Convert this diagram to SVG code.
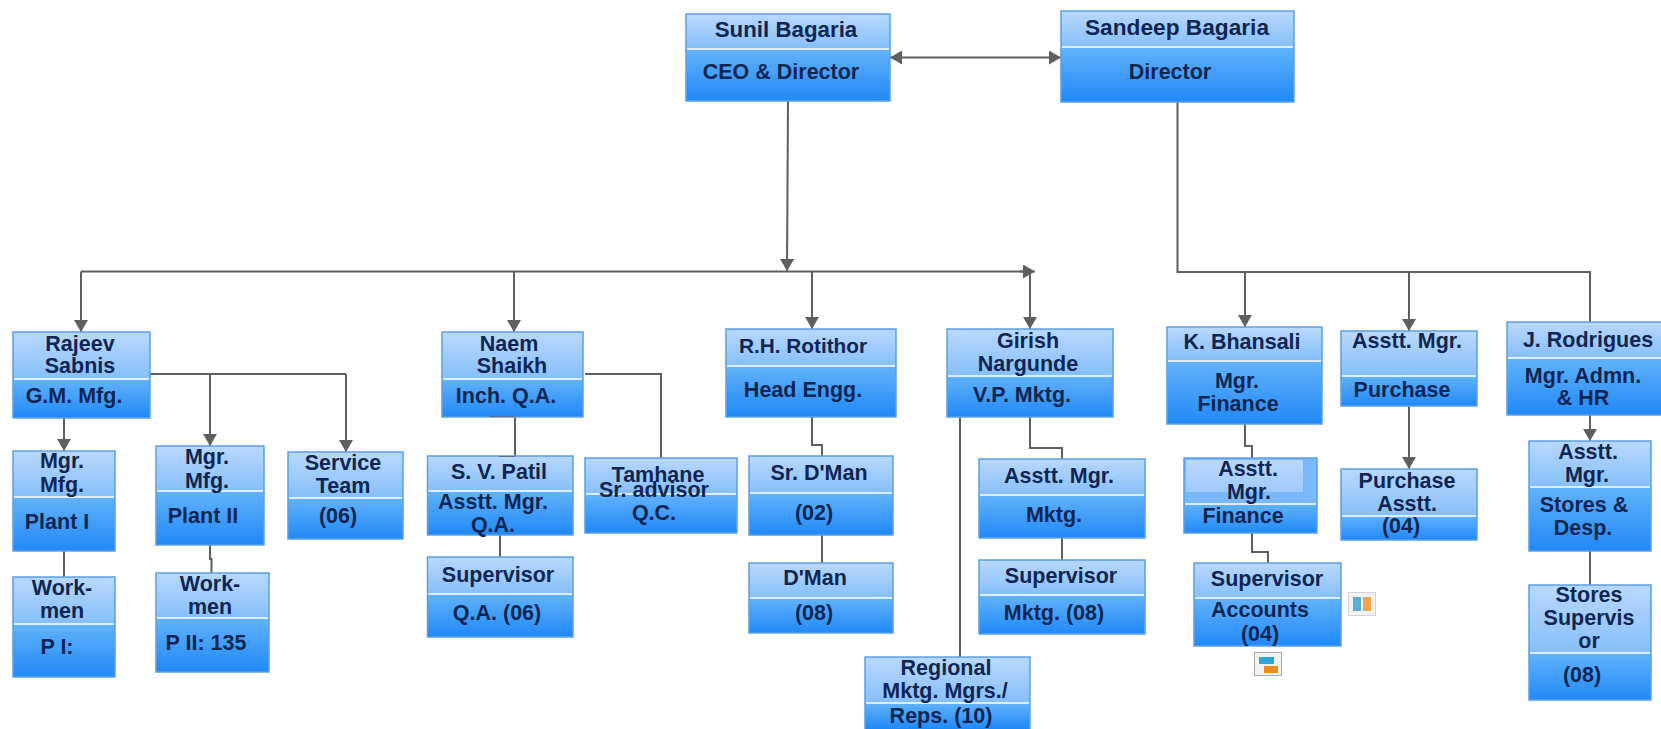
<svg xmlns="http://www.w3.org/2000/svg" width="1661" height="729" viewBox="0 0 1661 729">
<style>
text{font-family:"Liberation Sans",Arial,sans-serif;font-weight:700;font-size:21.5px;fill:#0f2552;text-anchor:middle}
.t{fill:url(#gt)}
.b{fill:url(#gb)}
.o{fill:none;stroke:#5c9fe4;stroke-width:1.5}
.d{stroke:#dcedff;stroke-width:2}
.c{fill:none;stroke:#5f5f5f;stroke-width:2}
.s{fill:none;stroke:#5f6f85;stroke-width:1}
.a{marker-end:url(#ah)}
.ab{marker-start:url(#ahs);marker-end:url(#ah)}
</style>
<defs>
<linearGradient id="gt" x1="0" y1="0" x2="0" y2="1"><stop offset="0" stop-color="#b9d9fc"/><stop offset="1" stop-color="#86bffa"/></linearGradient>
<linearGradient id="gb" x1="0" y1="0" x2="0" y2="1"><stop offset="0" stop-color="#62b3fb"/><stop offset="1" stop-color="#2089f7"/></linearGradient>
<linearGradient id="gp" x1="0" y1="0" x2="0" y2="1"><stop offset="0" stop-color="#b9d9fc"/><stop offset="1" stop-color="#a0cafb"/></linearGradient>
<marker id="ah" markerUnits="userSpaceOnUse" markerWidth="12" markerHeight="14" refX="12" refY="7" orient="auto"><path d="M0 0L12 7L0 14Z" fill="#5f5f5f"/></marker>
<marker id="ahs" markerUnits="userSpaceOnUse" markerWidth="12" markerHeight="14" refX="0" refY="7" orient="auto"><path d="M12 0L0 7L12 14Z" fill="#5f5f5f"/></marker>
</defs>
<rect width="1661" height="729" fill="#fff"/>
<g id="connectors">
<path class="c ab" d="M890 57.500H1061"/>
<path class="c a" d="M788 101L787 271"/>
<path class="c" d="M81 271.500H1024"/>
<path class="c a" d="M1020 271.500H1035"/>
<path class="c a" d="M81 271.500V332"/>
<path class="c a" d="M514 271.500V332"/>
<path class="c a" d="M812 271.500V329"/>
<path class="c a" d="M1030 271.500V329"/>
<path class="c" d="M1177.500 102V272H1590V322"/>
<path class="c a" d="M1245 272V327"/>
<path class="c a" d="M1409 272V331"/>
<path class="c a" d="M1409 406V469"/>
<path class="c a" d="M1590 415V441"/>
<path class="c" d="M1590 551V585"/>
<path class="c" d="M1245 424V446H1252V458"/>
<path class="c" d="M1252 533V552H1268V563"/>
<path class="c" d="M150 374H346"/>
<path class="c a" d="M346 374V452"/>
<path class="c a" d="M210 374V446"/>
<path class="c a" d="M64 418V451"/>
<path class="c" d="M64 551V577"/>
<path class="c" d="M210 545V559H211.500V573"/>
<path class="c" d="M515 417V456"/>
<path class="c" d="M500 535V557"/>
<path class="c" d="M585 374H661V458"/>
<path class="c" d="M812 417V445H822V456"/>
<path class="c" d="M822 535V563"/>
<path class="c" d="M1030 417V448H1062V459"/>
<path class="c" d="M1062 538V560"/>
<path class="c" d="M960 417V657"/>
</g>
<g id="n-sunil"><rect class="t" x="686" y="14" width="204" height="35"/><rect class="b" x="686" y="49" width="204" height="52"/><rect class="o" x="686" y="14" width="204" height="87"/><path class="d" d="M687 49H889"/><text x="786" y="37" style="font-size:22.3px">Sunil Bagaria</text><text x="781" y="79">CEO &amp; Director</text></g>
<g id="n-sandeep"><rect class="t" x="1061" y="11" width="233" height="36"/><rect class="b" x="1061" y="47" width="233" height="55"/><rect class="o" x="1061" y="11" width="233" height="91"/><path class="d" d="M1062 47H1293"/><text x="1177" y="35" style="font-size:22.7px">Sandeep Bagaria</text><text x="1170" y="79">Director</text></g>
<g id="n-rajeev"><rect class="t" x="13" y="332" width="137" height="47"/><rect class="b" x="13" y="379" width="137" height="39"/><rect class="o" x="13" y="332" width="137" height="86"/><path class="d" d="M14 379H149"/><text x="80" y="351">Rajeev</text><text x="80" y="373">Sabnis</text><text x="74" y="403">G.M. Mfg.</text></g>
<g id="n-mgr1"><rect class="t" x="13" y="451" width="102" height="46"/><rect class="b" x="13" y="497" width="102" height="54"/><rect class="o" x="13" y="451" width="102" height="100"/><path class="d" d="M14 497H114"/><text x="62" y="468">Mgr.</text><text x="62" y="492">Mfg.</text><text x="57" y="529">Plant I</text></g>
<g id="n-mgr2"><rect class="t" x="156" y="446" width="108" height="45"/><rect class="b" x="156" y="491" width="108" height="54"/><rect class="o" x="156" y="446" width="108" height="99"/><path class="d" d="M157 491H263"/><text x="207" y="464">Mgr.</text><text x="207" y="488">Mfg.</text><text x="203" y="523">Plant II</text></g>
<g id="n-service"><rect class="t" x="288" y="452" width="115" height="46"/><rect class="b" x="288" y="498" width="115" height="41"/><rect class="o" x="288" y="452" width="115" height="87"/><path class="d" d="M289 498H402"/><text x="343" y="470">Service</text><text x="343" y="493">Team</text><text x="338" y="523">(06)</text></g>
<g id="n-work1"><rect class="t" x="13" y="577" width="102" height="47"/><rect class="b" x="13" y="624" width="102" height="53"/><rect class="o" x="13" y="577" width="102" height="100"/><path class="d" d="M14 624H114"/><text x="62" y="595">Work-</text><text x="62" y="618">men</text><text x="57" y="654">P I:</text></g>
<g id="n-work2"><rect class="t" x="156" y="573" width="113" height="45"/><rect class="b" x="156" y="618" width="113" height="54"/><rect class="o" x="156" y="573" width="113" height="99"/><path class="d" d="M157 618H268"/><text x="210" y="591">Work-</text><text x="210" y="614">men</text><text x="206" y="650">P II: 135</text></g>
<g id="n-naem"><rect class="t" x="442" y="332" width="141" height="47"/><rect class="b" x="442" y="379" width="141" height="38"/><rect class="o" x="442" y="332" width="141" height="85"/><path class="d" d="M443 379H582"/><path class="s" d="M489 416.500H515"/><text x="509" y="351">Naem</text><text x="512" y="373">Shaikh</text><text x="506" y="403">Inch. Q.A.</text></g>
<g id="n-patil"><rect class="t" x="427.500" y="456" width="145.500" height="35"/><rect class="b" x="427.500" y="491" width="145.500" height="44"/><rect class="o" x="427.500" y="456" width="145.500" height="79"/><path class="d" d="M428.500 491H572"/><path class="s" d="M499 456.500H515"/><text x="499" y="479">S. V. Patil</text><text x="493" y="509">Asstt. Mgr.</text><text x="493" y="532">Q.A.</text></g>
<g id="n-tamhane"><rect class="t" x="585" y="458" width="152" height="36"/><rect class="b" x="585" y="494" width="152" height="39"/><rect class="o" x="585" y="458" width="152" height="75"/><path class="d" d="M586 494H736"/><text x="658" y="482">Tamhane</text><text x="654" y="497">Sr. advisor</text><text x="654" y="520">Q.C.</text></g>
<g id="n-supqa"><rect class="t" x="427.500" y="557" width="145.500" height="37"/><rect class="b" x="427.500" y="594" width="145.500" height="43"/><rect class="o" x="427.500" y="557" width="145.500" height="80"/><path class="d" d="M428.500 594H572"/><text x="498" y="582">Supervisor</text><text x="497" y="620">Q.A. (06)</text></g>
<g id="n-rh"><rect class="t" x="726" y="329" width="170" height="37"/><rect class="b" x="726" y="366" width="170" height="51"/><rect class="o" x="726" y="329" width="170" height="88"/><path class="d" d="M727 366H895"/><text x="803" y="353" style="font-size:20.8px">R.H. Rotithor</text><text x="803" y="397">Head Engg.</text></g>
<g id="n-srdman"><rect class="t" x="749" y="456" width="144" height="37"/><rect class="b" x="749" y="493" width="144" height="42"/><rect class="o" x="749" y="456" width="144" height="79"/><path class="d" d="M750 493H892"/><text x="819" y="480">Sr. D'Man</text><text x="814" y="520">(02)</text></g>
<g id="n-dman"><rect class="t" x="749" y="563" width="144" height="35"/><rect class="b" x="749" y="598" width="144" height="35"/><rect class="o" x="749" y="563" width="144" height="70"/><path class="d" d="M750 598H892"/><text x="815" y="585">D'Man</text><text x="814" y="620">(08)</text></g>
<g id="n-girish"><rect class="t" x="947" y="329" width="166" height="47"/><rect class="b" x="947" y="376" width="166" height="41"/><rect class="o" x="947" y="329" width="166" height="88"/><path class="d" d="M948 376H1112"/><text x="1028" y="348">Girish</text><text x="1028" y="371">Nargunde</text><text x="1022" y="402">V.P. Mktg.</text></g>
<g id="n-amktg"><rect class="t" x="979" y="459" width="166" height="36"/><rect class="b" x="979" y="495" width="166" height="43"/><rect class="o" x="979" y="459" width="166" height="79"/><path class="d" d="M980 495H1144"/><text x="1059" y="483">Asstt. Mgr.</text><text x="1054" y="522">Mktg.</text></g>
<g id="n-supmktg"><rect class="t" x="979" y="560" width="166" height="35"/><rect class="b" x="979" y="595" width="166" height="39"/><rect class="o" x="979" y="560" width="166" height="74"/><path class="d" d="M980 595H1144"/><text x="1061" y="583">Supervisor</text><text x="1054" y="620">Mktg. (08)</text></g>
<g id="n-regional"><rect class="t" x="865" y="657" width="165" height="46"/><rect class="b" x="865" y="703" width="165" height="26"/><rect class="o" x="865" y="657" width="165" height="73"/><path class="d" d="M866 703H1029"/><text x="946" y="675">Regional</text><text x="945" y="698">Mktg. Mgrs./</text><text x="941" y="723">Reps. (10)</text></g>
<g id="n-bhansali"><rect class="t" x="1167" y="327" width="155" height="34"/><rect class="b" x="1167" y="361" width="155" height="63"/><rect class="o" x="1167" y="327" width="155" height="97"/><path class="d" d="M1168 361H1321"/><text x="1242" y="349">K. Bhansali</text><text x="1237" y="388">Mgr.</text><text x="1238" y="411">Finance</text></g>
<g id="n-apur"><rect class="t" x="1341" y="331" width="136" height="45"/><rect class="b" x="1341" y="376" width="136" height="30"/><rect class="o" x="1341" y="331" width="136" height="75"/><path class="d" d="M1342 376H1476"/><text x="1407" y="348">Asstt. Mgr.</text><text x="1402" y="397">Purchase</text></g>
<g id="n-rodrigues"><rect class="t" x="1507" y="322" width="154" height="36"/><rect class="b" x="1507" y="358" width="154" height="57"/><rect class="o" x="1507" y="322" width="155" height="93"/><path class="d" d="M1508 358H1661"/><text x="1588" y="347">J. Rodrigues</text><text x="1583" y="383">Mgr. Admn.</text><text x="1583" y="405">&amp; HR</text></g>
<g id="n-afin"><rect fill="#7ab8f9" x="1184" y="458" width="133" height="46"/><rect fill="url(#gp)" x="1186" y="460" width="117" height="32"/><rect class="b" x="1184" y="504" width="133" height="29"/><rect class="o" x="1184" y="458" width="133" height="75"/><path class="d" d="M1185 504H1316"/><text x="1248" y="476">Asstt.</text><text x="1249" y="499">Mgr.</text><text x="1243" y="523">Finance</text></g>
<g id="n-purasst"><rect class="t" x="1341" y="469" width="136" height="47"/><rect class="b" x="1341" y="516" width="136" height="24"/><rect class="o" x="1341" y="469" width="136" height="71"/><path class="d" d="M1342 516H1476"/><text x="1407" y="488">Purchase</text><text x="1407" y="511">Asstt.</text><text x="1401" y="533">(04)</text></g>
<g id="n-supacc"><rect class="t" x="1194" y="563" width="147" height="35"/><rect class="b" x="1194" y="598" width="147" height="48"/><rect class="o" x="1194" y="563" width="147" height="83"/><path class="d" d="M1195 598H1340"/><text x="1267" y="586">Supervisor</text><text x="1260" y="617">Accounts</text><text x="1260" y="641">(04)</text></g>
<g id="n-astores"><rect class="t" x="1529" y="441" width="122" height="46"/><rect class="b" x="1529" y="487" width="122" height="64"/><rect class="o" x="1529" y="441" width="122" height="110"/><path class="d" d="M1530 487H1650"/><text x="1588" y="459">Asstt.</text><text x="1587" y="482">Mgr.</text><text x="1584" y="512">Stores &amp;</text><text x="1583" y="535">Desp.</text></g>
<g id="n-stores"><rect class="t" x="1529" y="585" width="122" height="68"/><rect class="b" x="1529" y="653" width="122" height="47"/><rect class="o" x="1529" y="585" width="122" height="115"/><path class="d" d="M1530 653H1650"/><text x="1589" y="602">Stores</text><text x="1589" y="625">Supervis</text><text x="1589" y="648">or</text><text x="1582" y="682">(08)</text></g>
<g id="icon-columns"><rect x="1348.500" y="592.500" width="27" height="23" fill="#f2f2f0" stroke="#d4d4d0"/><rect x="1353" y="597" width="8" height="14" fill="#5aaedc"/><rect x="1363" y="597" width="8" height="14" fill="#f3a64c"/></g>
<g id="icon-rows"><rect x="1254.500" y="652.500" width="27" height="23" fill="#f2f2f0" stroke="#a8a8a4"/><rect x="1259" y="657" width="15" height="7" fill="#2ca4dc"/><rect x="1264" y="666" width="14" height="7" fill="#ee8a22"/></g>
</svg>
